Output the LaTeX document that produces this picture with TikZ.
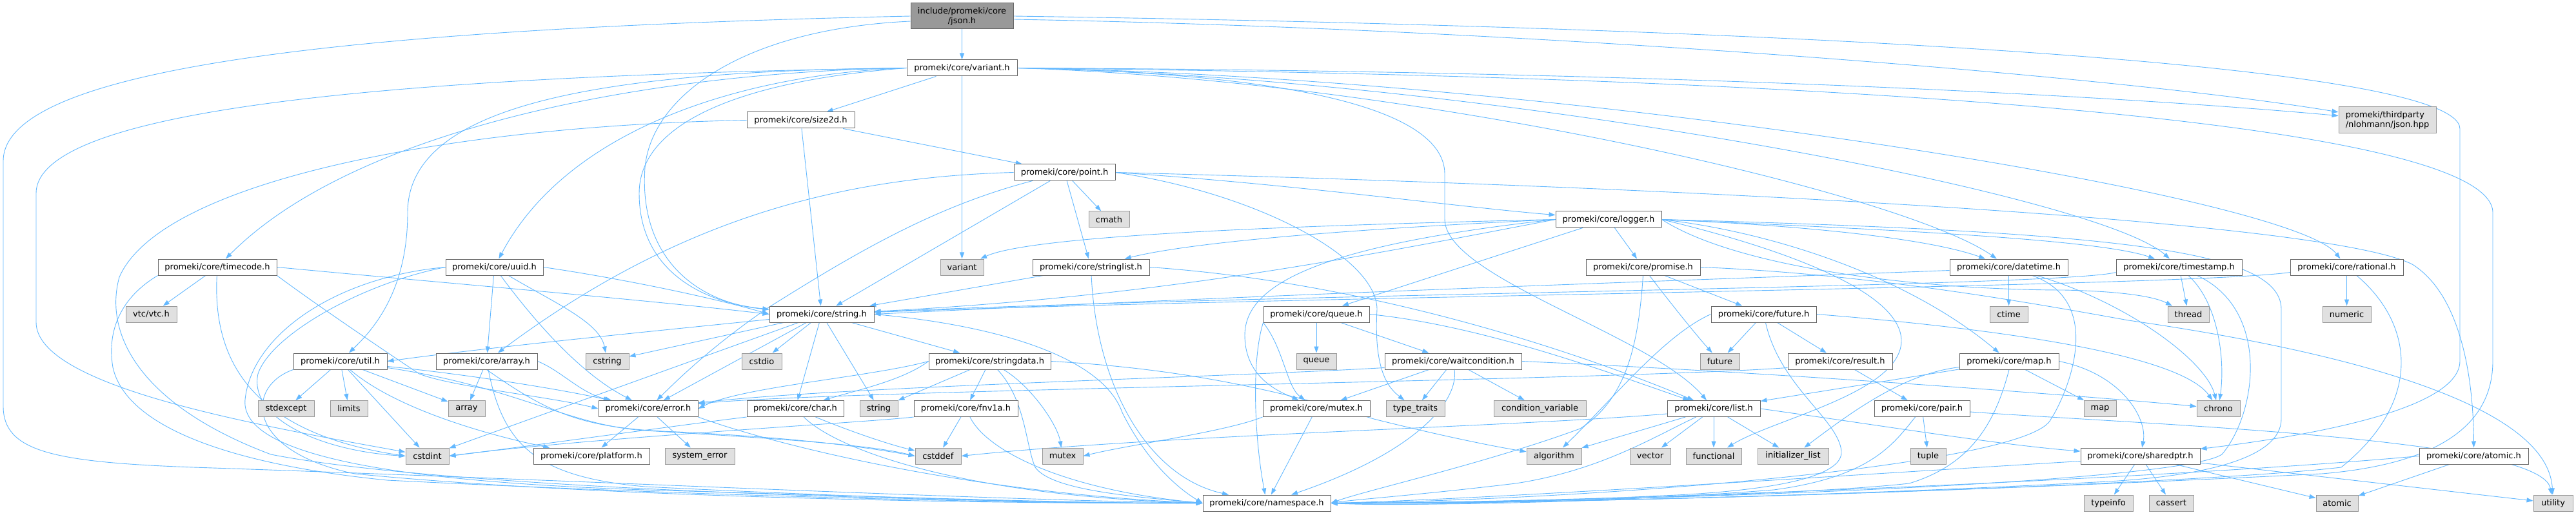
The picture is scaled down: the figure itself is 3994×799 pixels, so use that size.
\documentclass[tikz,border=0pt]{standalone}
\usepackage{fontspec}
\setmainfont{DejaVu Sans}
\usetikzlibrary{arrows.meta}
\definecolor{edgec}{HTML}{63B8FF}
\definecolor{bdr}{HTML}{666666}
\definecolor{gbdr}{HTML}{999999}
\definecolor{gfill}{HTML}{E0E0E0}
\definecolor{jfill}{HTML}{999999}
\newcommand\fsz{\fontsize{13}{15}\selectfont}
\pgfdeclarelayer{bg}
\pgfsetlayers{bg,main}
\tikzset{
  basebox/.style={inner sep=0pt, minimum height=25pt, line width=1pt, font=\fsz, text=black},
  nb/.style={basebox, draw=bdr, fill=white},
  sb/.style={basebox, draw=gbdr, fill=gfill},
  hb/.style={basebox, draw=bdr, fill=jfill},
  edg/.style={draw=edgec, line width=0.9pt, -{Triangle[length=10pt,width=7pt]}},
}
\begin{document}
\begin{tikzpicture}[x=1pt,y=-1pt]
\useasboundingbox (0,0) rectangle (3994,799);
% rows 1-5
\node[hb, minimum width=159pt, minimum height=40pt, align=center] (json) at (1491.5,25) {include/promeki/core\\/json.h};
\node[nb, minimum width=171pt] (vh) at (1491.5,105.5) {promeki/core/variant.h};
\node[nb, minimum width=167pt] (size2d) at (1241.5,186.5) {promeki/core/size2d.h};
\node[sb, minimum width=151pt, minimum height=41pt, align=left] (nlo) at (3701.5,186.5) {promeki/thirdparty\\/nlohmann/json.hpp};
\node[nb, minimum width=157pt] (point) at (1650.5,267.5) {promeki/core/point.h};
\node[sb, minimum width=63pt] (cmath) at (1719.5,340.5) {cmath};
\node[nb, minimum width=164pt] (logger) at (2494,340.5) {promeki/core/logger.h};
% row 6
\node[nb, minimum width=184pt] (timecode) at (337,414.5) {promeki/core/timecode.h};
\node[nb, minimum width=151pt] (uuid) at (766.5,414.5) {promeki/core/uuid.h};
\node[sb, minimum width=67pt] (variant) at (1491.5,414.5) {variant};
\node[nb, minimum width=181pt] (stringlist) at (1691.5,414.5) {promeki/core/stringlist.h};
\node[nb, minimum width=177pt] (promise) at (2547.5,414.5) {promeki/core/promise.h};
\node[nb, minimum width=183pt] (datetime) at (3114.5,414.5) {promeki/core/datetime.h};
\node[nb, minimum width=195pt] (timestamp) at (3378.5,414.5) {promeki/core/timestamp.h};
\node[nb, minimum width=175pt] (rational) at (3638.5,414.5) {promeki/core/rational.h};
% row 7
\node[sb, minimum width=79pt] (vtc) at (234.5,487.5) {vtc/vtc.h};
\node[nb, minimum width=162pt] (strh) at (1274,487.5) {promeki/core/string.h};
\node[nb, minimum width=164pt] (qh) at (2041,487.5) {promeki/core/queue.h};
\node[nb, minimum width=163pt] (fh) at (2734.5,487.5) {promeki/core/future.h};
\node[sb, minimum width=59pt] (ctime) at (3114.5,487.5) {ctime};
\node[sb, minimum width=64pt] (thread) at (3393,487.5) {thread};
\node[sb, minimum width=75pt] (numeric) at (3638.5,487.5) {numeric};
% row 8
\node[nb, minimum width=145pt] (util) at (527.5,560.5) {promeki/core/util.h};
\node[nb, minimum width=157pt] (arrh) at (754.5,560.5) {promeki/core/array.h};
\node[sb, minimum width=67pt] (cstring) at (941.5,560.5) {cstring};
\node[sb, minimum width=62pt] (cstdio) at (1181,560.5) {cstdio};
\node[nb, minimum width=189pt] (sdata) at (1534.5,560.5) {promeki/core/stringdata.h};
\node[sb, minimum width=62pt] (queue) at (2041,560.5) {queue};
\node[nb, minimum width=212pt] (wait) at (2253,560.5) {promeki/core/waitcondition.h};
\node[sb, minimum width=61pt] (future) at (2666.5,560.5) {future};
\node[nb, minimum width=162pt] (result) at (2853,560.5) {promeki/core/result.h};
\node[nb, minimum width=154pt] (maph) at (3115,560.5) {promeki/core/map.h};
% row 9
\node[sb, minimum width=87pt] (stdexcept) at (443.5,634) {stdexcept};
\node[sb, minimum width=58pt] (limits) at (541,634) {limits};
\node[sb, minimum width=57pt] (array) at (723.5,634) {array};
\node[nb, minimum width=154pt] (err) at (1005,634) {promeki/core/error.h};
\node[nb, minimum width=150pt] (charh) at (1233,634) {promeki/core/char.h};
\node[sb, minimum width=59pt] (string) at (1362.5,634) {string};
\node[nb, minimum width=161pt] (fnv) at (1497.5,634) {promeki/core/fnv1a.h};
\node[nb, minimum width=166pt] (mtxh) at (2041,634) {promeki/core/mutex.h};
\node[sb, minimum width=91pt] (ttraits) at (2194.5,634) {type\_traits};
\node[sb, minimum width=143pt] (condvar) at (2387.5,634) {condition\_variable};
\node[nb, minimum width=144pt] (listh) at (2657,634) {promeki/core/list.h};
\node[nb, minimum width=148pt] (pairh) at (2980,634) {promeki/core/pair.h};
\node[sb, minimum width=50pt] (map) at (3256,634) {map};
\node[sb, minimum width=67pt] (chrono) at (3439.5,634) {chrono};
% row 10
\node[sb, minimum width=67pt] (cstdint) at (662.5,707.5) {cstdint};
\node[nb, minimum width=180pt] (platform) at (917,707.5) {promeki/core/platform.h};
\node[sb, minimum width=108pt] (syserr) at (1085,707.5) {system\_error};
\node[sb, minimum width=71pt] (cstddef) at (1454.5,707.5) {cstddef};
\node[sb, minimum width=63pt] (mutex) at (1647.5,707.5) {mutex};
\node[sb, minimum width=85pt] (algo) at (2409.5,707.5) {algorithm};
\node[sb, minimum width=63pt] (vector) at (2558.5,707.5) {vector};
\node[sb, minimum width=86pt] (functional) at (2657,707.5) {functional};
\node[sb, minimum width=110pt] (initl) at (2780,707.5) {initializer\_list};
\node[sb, minimum width=55pt] (tuple) at (2989.5,707.5) {tuple};
\node[nb, minimum width=185pt] (sptr) at (3318.5,707.5) {promeki/core/sharedptr.h};
\node[nb, minimum width=169pt] (atomh) at (3835.5,707.5) {promeki/core/atomic.h};
% row 11
\node[nb, minimum width=198pt] (ns) at (1964,780.5) {promeki/core/namespace.h};
\node[sb, minimum width=76pt] (typeinfo) at (3269,780.5) {typeinfo};
\node[sb, minimum width=69pt] (cassert) at (3366.5,780.5) {cassert};
\node[sb, minimum width=65pt] (atomic) at (3623.5,780.5) {atomic};
\node[sb, minimum width=61pt] (utility) at (3958.5,780.5) {utility};

\begin{pgfonlayer}{bg}
% json.h
\draw[edg] (json) -- (vh);
\draw[edg] (json.west) .. controls (500,45) and (5,110) .. (5,250) -- (5,630) .. controls (5,700) and (80,717) .. (300,725) .. controls (900,745) and (1500,775) .. (ns.west);
\draw[edg] ([yshift=-8pt]json.west) .. controls (1150,45) and (1010,150) .. (1000,260) .. controls (990,400) and (1080,470) .. (strh);
\draw[edg] (json.east) .. controls (2600,40) and (3814,90) .. (3814,200) -- (3814,560) .. controls (3814,640) and (3550,680) .. (sptr);
\draw[edg] ([yshift=-5pt]json.east) .. controls (2400,45) and (3300,120) .. (nlo);
% variant.h
\draw[edg] (vh) -- (variant);
\draw[edg] (vh) -- (size2d);
\draw[edg] (vh.west) .. controls (1000,112) and (550,200) .. (timecode);
\draw[edg] (vh.west) .. controls (1150,115) and (880,200) .. (uuid);
\draw[edg] (vh.west) .. controls (900,110) and (632,170) .. (632,330) .. controls (632,450) and (580,510) .. (util);
\draw[edg] (vh.west) .. controls (1150,125) and (991,190) .. (991,300) .. controls (991,420) and (1090,470) .. (strh);
\draw[edg] (vh.west) .. controls (600,118) and (56,170) .. (56,300) -- (56,500) .. controls (56,600) and (400,660) .. (cstdint);
\draw[edg] (vh.east) .. controls (2600,110) and (3300,150) .. (nlo);
\draw[edg] (vh.east) .. controls (3000,120) and (3865,200) .. (3865,330) -- (3865,560) .. controls (3865,660) and (3780,720) .. (3600,735) .. controls (3000,765) and (2400,782) .. (ns.east);
\draw[edg] (vh.east) .. controls (2200,125) and (2950,300) .. (datetime);
\draw[edg] (vh.east) .. controls (2300,120) and (3250,300) .. (timestamp);
\draw[edg] (vh.east) .. controls (2400,118) and (3550,300) .. (rational);
\draw[edg] (vh.east) .. controls (2050,115) and (2240,180) .. (2240,270) -- (2240,340) .. controls (2240,430) and (2560,520) .. (listh);
% size2d.h
\draw[edg] (size2d) -- (point);
\draw[edg] (size2d) -- (strh);
\draw[edg] (size2d.west) .. controls (700,195) and (250,280) .. (185,430) .. controls (160,520) and (220,630) .. (420,705) .. controls (700,760) and (1500,780) .. (ns.west);
% point.h
\draw[edg] (point) -- (cmath);
\draw[edg] (point.west) .. controls (1300,275) and (1050,340) .. (arrh);
\draw[edg] (point) -- (stringlist);
\draw[edg] (point) -- (strh);
\draw[edg] (point) .. controls (1450,320) and (1330,390) .. (1190,478) .. controls (1100,540) and (1050,590) .. (err);
\draw[edg] (point.east) .. controls (2000,285) and (2250,320) .. (logger);
\draw[edg] (point.east) .. controls (2600,290) and (3600,340) .. (3740,410) .. controls (3820,460) and (3835,600) .. (atomh);
\draw[edg] (point.east) .. controls (1950,300) and (2135,400) .. (2135,480) .. controls (2130,570) and (2150,600) .. (ttraits);
% logger.h
\draw[edg] (logger.west) .. controls (2000,350) and (1600,365) .. (variant);
\draw[edg] (logger.west) .. controls (2100,355) and (1850,375) .. (stringlist);
\draw[edg] (logger.west) .. controls (2100,400) and (1800,460) .. (strh);
\draw[edg] (logger) -- (qh);
\draw[edg] (logger) -- (promise);
\draw[edg] (logger.west) .. controls (2050,380) and (1930,440) .. (1930,520) .. controls (1930,590) and (1990,610) .. (mtxh);
\draw[edg] (logger.east) .. controls (2800,350) and (2990,370) .. (datetime);
\draw[edg] (logger.east) .. controls (2900,355) and (3250,370) .. (timestamp);
\draw[edg] (logger.east) .. controls (2700,420) and (3000,450) .. (3200,450) .. controls (3290,452) and (3340,460) .. (thread);
\draw[edg] (logger.east) .. controls (2750,360) and (2960,430) .. (maph);
\draw[edg] (logger.east) .. controls (2700,370) and (2950,440) .. (2948,530) .. controls (2945,610) and (2750,650) .. (functional);
\draw[edg] (logger.east) .. controls (3300,360) and (3537,390) .. (3537,480) -- (3537,650) .. controls (3537,710) and (3420,740) .. (3250,748) .. controls (2800,772) and (2300,782) .. (ns.east);
% queue.h
\draw[edg] (qh) -- (queue);
\draw[edg] (qh) -- (wait);
\draw[edg] (qh.south west) .. controls (1990,540) and (1995,600) .. (mtxh);
\draw[edg] (qh.south west) .. controls (1940,560) and (1945,680) .. (ns);
\draw[edg] (qh.east) .. controls (2300,505) and (2500,580) .. (listh);
% promise.h
\draw[edg] (promise) -- (fh);
\draw[edg] (promise) .. controls (2590,470) and (2630,520) .. (future);
\draw[edg] (promise.south) .. controls (2540,540) and (2520,620) .. (2450,665) .. controls (2300,720) and (2120,760) .. (ns.east);
\draw[edg] (promise.east) .. controls (2900,425) and (3150,470) .. (3300,497) .. controls (3600,540) and (3950,620) .. (utility);
% future.h
\draw[edg] (fh) -- (future);
\draw[edg] (fh) -- (result);
\draw[edg] (fh) .. controls (2760,600) and (2850,650) .. (2855,700) .. controls (2858,740) and (2750,760) .. (2600,768) .. controls (2300,782) and (2150,785) .. (ns.east);
\draw[edg] (fh.east) .. controls (3100,510) and (3380,550) .. (chrono);
\draw[edg] (fh.west) .. controls (2580,520) and (2500,620) .. (algo);
% waitcondition.h
\draw[edg] (wait) -- (mtxh);
\draw[edg] (wait) -- (ttraits);
\draw[edg] (wait) -- (condvar);
\draw[edg] (wait) .. controls (2262,620) and (2200,700) .. (ns);
\draw[edg] ([yshift=-10pt]wait.west) .. controls (1900,585) and (1300,600) .. (err);
\draw[edg] (wait.east) .. controls (2800,580) and (3300,620) .. (chrono);
% result.h
\draw[edg] (result) -- (pairh);
\draw[edg] ([yshift=-10pt]result.west) .. controls (2500,590) and (1300,605) .. (err);
% map.h
\draw[edg] (maph) -- (map);
\draw[edg] (maph) -- (listh);
\draw[edg] (maph) .. controls (2950,580) and (2870,640) .. (initl);
\draw[edg] (maph.south) .. controls (3095,650) and (3060,720) .. (2960,750) .. controls (2800,768) and (2300,782) .. (ns.east);
\draw[edg] (maph.east) .. controls (3290,580) and (3330,650) .. (sptr);
% list.h
\draw[edg] (listh) -- (functional);
\draw[edg] (listh) -- (initl);
\draw[edg] (listh) -- (algo);
\draw[edg] (listh) -- (vector);
\draw[edg] (listh.east) .. controls (2950,665) and (3100,690) .. (sptr);
\draw[edg] (listh) .. controls (2560,680) and (2480,730) .. (2350,750) .. controls (2200,768) and (2100,775) .. (ns.east);
\draw[edg] ([yshift=-8pt]listh.west) .. controls (2350,662) and (1800,675) .. (cstddef.east);
% pair.h
\draw[edg] (pairh) -- (tuple);
\draw[edg] (pairh) .. controls (2935,690) and (2900,740) .. (2750,760) .. controls (2500,780) and (2200,785) .. (ns.east);
\draw[edg] ([yshift=-5pt]pairh.east) .. controls (3350,660) and (3940,680) .. (utility);
% sharedptr.h
\draw[edg] (sptr) -- (typeinfo);
\draw[edg] (sptr) -- (cassert);
\draw[edg] (sptr) -- (atomic);
\draw[edg] (sptr) -- (utility);
\draw[edg] ([yshift=-8pt]sptr.west) .. controls (2900,735) and (2300,775) .. (ns.east);
% atomic.h
\draw[edg] (atomh) -- (atomic);
\draw[edg] (atomh.west) .. controls (3400,740) and (2500,780) .. (ns.east);
% datetime.h
\draw[edg] (datetime) -- (ctime);
\draw[edg] ([yshift=-5pt]datetime.west) .. controls (2700,432) and (2000,455) .. (strh.east);
\draw[edg] (datetime) .. controls (3300,470) and (3420,560) .. (chrono);
\draw[edg] (datetime) .. controls (3270,470) and (3200,620) .. (3180,650) .. controls (3150,720) and (2500,775) .. (ns.east);
% timestamp.h
\draw[edg] (timestamp) -- (thread);
\draw[edg] (timestamp) .. controls (3440,470) and (3450,560) .. (chrono);
\draw[edg] (timestamp) .. controls (3520,480) and (3500,640) .. (3445,705) .. controls (3380,748) and (2600,778) .. (ns.east);
\draw[edg] ([yshift=-8pt]timestamp.west) .. controls (3200,445) and (2000,455) .. (strh);
% rational.h
\draw[edg] (rational) -- (numeric);
\draw[edg] ([yshift=-8pt]rational.west) .. controls (3400,445) and (2000,460) .. (strh);
\draw[edg] (rational) .. controls (3740,500) and (3760,620) .. (3630,725) .. controls (3400,752) and (2500,782) .. (ns.east);
% stringlist.h
\draw[edg] (stringlist) -- (strh);
\draw[edg] (stringlist) .. controls (1700,600) and (1780,740) .. (ns);
\draw[edg] (stringlist.east) .. controls (2150,440) and (2480,560) .. (listh);
% string.h
\draw[edg] ([yshift=-8pt]strh.west) .. controls (950,520) and (750,540) .. (util.east);
\draw[edg] (strh) -- (cstring);
\draw[edg] (strh) -- (cstdint);
\draw[edg] (strh) -- (err);
\draw[edg] (strh) -- (cstdio);
\draw[edg] (strh) -- (charh);
\draw[edg] (strh) -- (string);
\draw[edg] (strh) -- (sdata);
\draw[edg] (strh.east) .. controls (1550,505) and (1710,555) .. (1740,640) .. controls (1780,720) and (1830,760) .. (ns.west);
% stringdata.h
\draw[edg] (sdata) -- (fnv);
\draw[edg] (sdata) -- (string);
\draw[edg] (sdata) .. controls (1600,600) and (1640,660) .. (mutex);
\draw[edg] (sdata) .. controls (1590,620) and (1590,690) .. (1605,725) .. controls (1630,760) and (1750,770) .. (ns.west);
\draw[edg] (sdata.west) .. controls (1400,590) and (1330,605) .. (charh);
\draw[edg] (sdata.west) .. controls (1350,585) and (1150,600) .. (err.east);
\draw[edg] (sdata.east) .. controls (1800,570) and (1950,595) .. (2130,650) .. controls (2250,680) and (2330,695) .. (algo);
% fnv1a.h
\draw[edg] (fnv) -- (cstddef);
\draw[edg] (fnv.south west) .. controls (1350,655) and (900,680) .. (cstdint.east);
\draw[edg] (fnv) .. controls (1530,700) and (1650,760) .. (ns.west);
% char.h
\draw[edg] (charh.south west) .. controls (1050,660) and (800,695) .. (cstdint.east);
\draw[edg] (charh) .. controls (1300,700) and (1500,770) .. (ns.west);
\draw[edg] (charh) .. controls (1320,670) and (1380,690) .. (cstddef);
% error.h
\draw[edg] (err) -- (platform);
\draw[edg] (err) -- (syserr);
\draw[edg] (err.south east) .. controls (1200,690) and (1500,765) .. (ns.west);
% util.h
\draw[edg] (util) -- (stdexcept);
\draw[edg] (util) -- (limits);
\draw[edg] (util) -- (cstdint);
\draw[edg] (util) -- (array);
\draw[edg] (util) .. controls (620,640) and (780,680) .. (platform);
\draw[edg] (util.south west) .. controls (380,600) and (380,700) .. (550,735) .. controls (900,770) and (1500,782) .. (ns.west);
\draw[edg] ([yshift=-8pt]util.east) .. controls (700,578) and (850,600) .. (err);
\draw[edg] ([yshift=-10pt]util.east) .. controls (800,600) and (880,660) .. (1000,668) .. controls (1200,680) and (1350,690) .. (cstddef.west);
% array.h
\draw[edg] (arrh) -- (array);
\draw[edg] (arrh) .. controls (780,690) and (830,740) .. (1000,755) .. controls (1400,775) and (1700,782) .. (ns.west);
\draw[edg] (arrh.south) .. controls (850,640) and (900,665) .. (1050,670) .. controls (1250,680) and (1350,695) .. (cstddef.west);
\draw[edg] (arrh.east) .. controls (870,575) and (900,610) .. (err);
% uuid.h
\draw[edg] (uuid) -- (arrh);
\draw[edg] (uuid) .. controls (830,500) and (900,580) .. (err);
\draw[edg] (uuid) .. controls (860,470) and (930,500) .. (cstring);
\draw[edg] (uuid.east) .. controls (950,430) and (1100,460) .. (strh.west);
\draw[edg] (uuid.west) .. controls (560,440) and (420,520) .. (400,580) .. controls (385,650) and (500,700) .. (cstdint.west);
\draw[edg] (uuid.west) .. controls (520,430) and (390,520) .. (380,620) .. controls (370,720) and (700,750) .. (1000,760) .. controls (1500,775) and (1750,782) .. (ns.west);
% timecode.h
\draw[edg] (timecode) -- (vtc);
\draw[edg] (timecode.east) .. controls (700,440) and (1000,465) .. (strh.west);
\draw[edg] (timecode.south east) .. controls (500,480) and (620,560) .. (650,580) .. controls (700,600) and (850,615) .. (err.west);
\draw[edg] (timecode.south west) .. controls (190,460) and (165,510) .. (175,570) .. controls (195,660) and (350,720) .. (600,745) .. controls (1100,770) and (1600,782) .. (ns.west);
\draw[edg] (timecode) .. controls (330,550) and (380,670) .. (cstdint.west);
% mutex.h
\draw[edg] (mtxh.south west) .. controls (1900,670) and (1750,690) .. (mutex.east);
\draw[edg] (mtxh) -- (ns);
\end{pgfonlayer}
\end{tikzpicture}
\end{document}
